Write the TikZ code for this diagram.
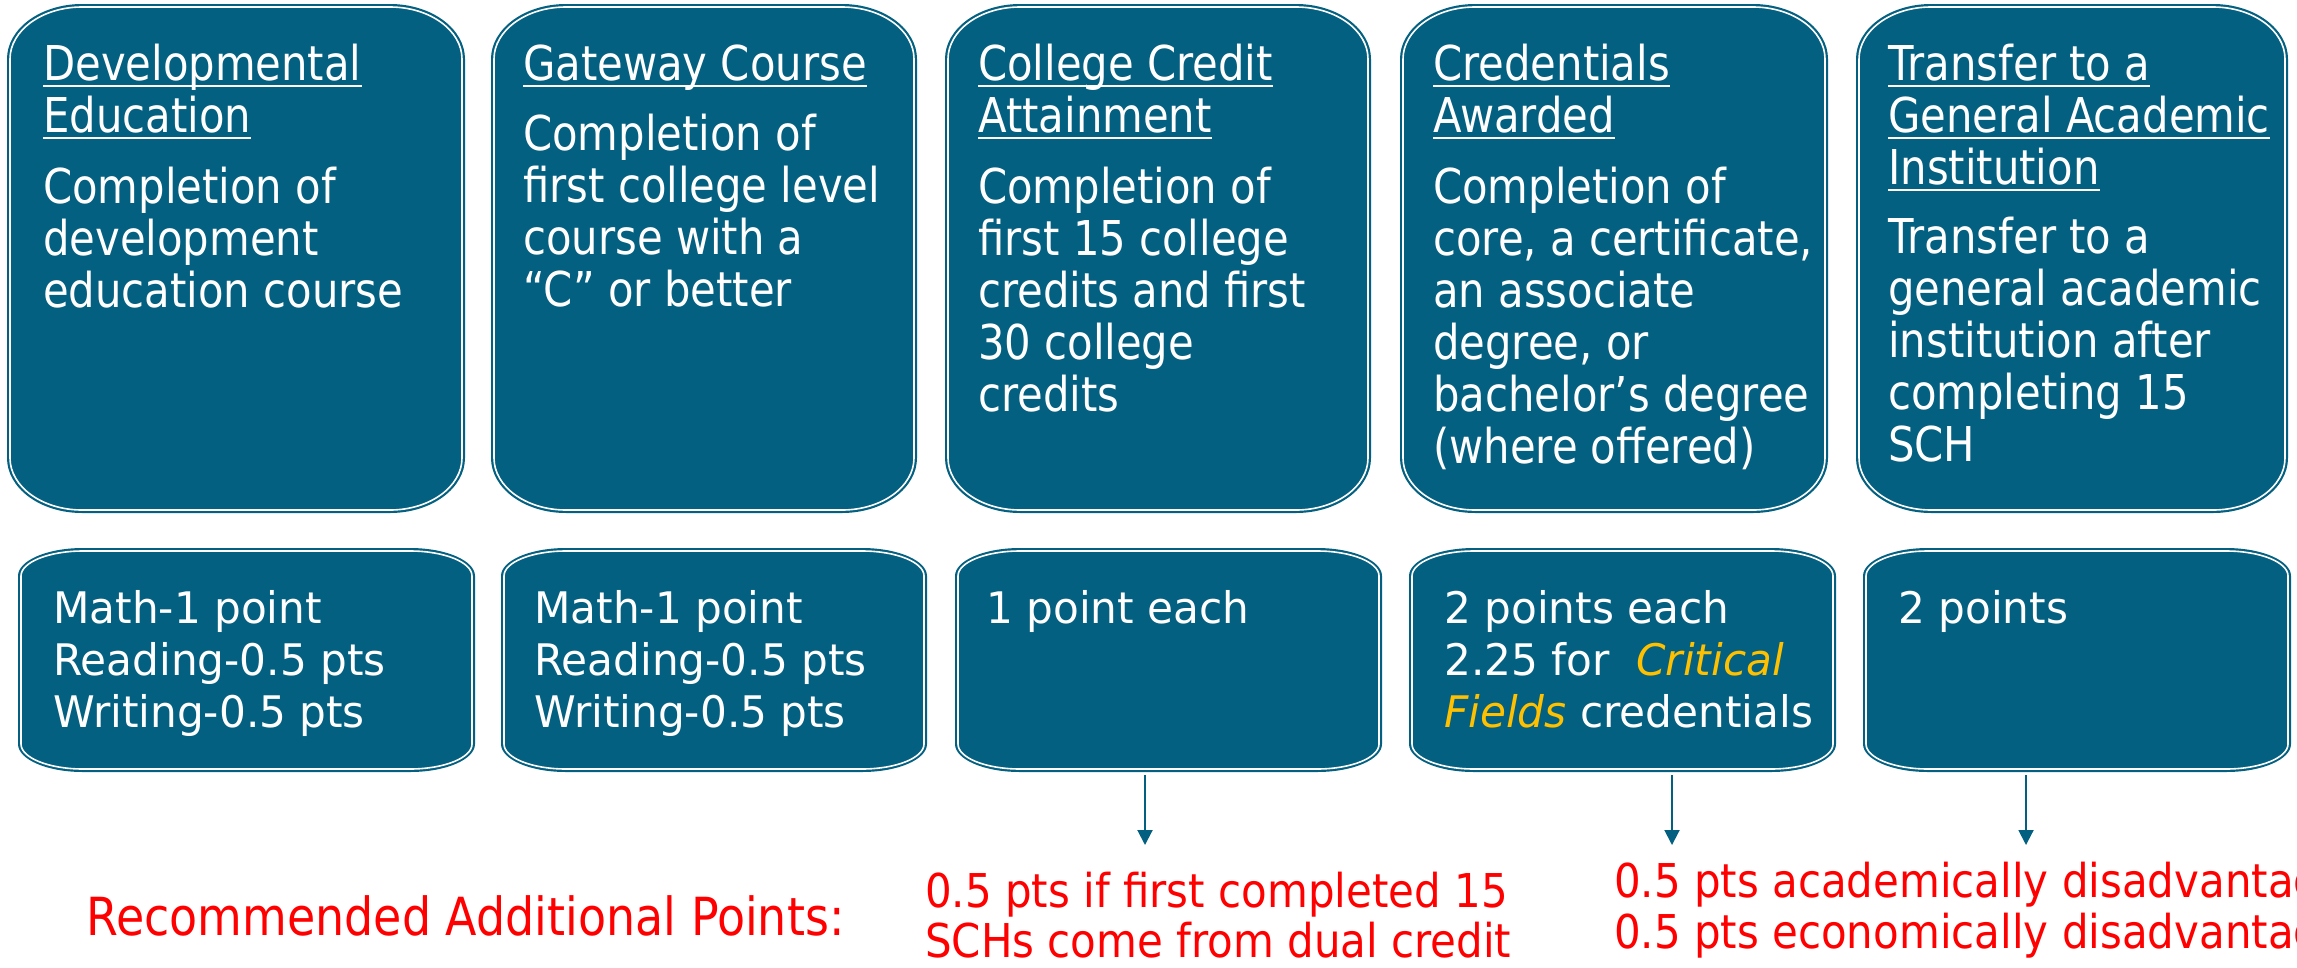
\documentclass[tikz,border=0pt]{standalone}
\usepackage{fontspec}
\usetikzlibrary{arrows.meta,fit}
\newfontfamily\ftop[FakeStretch=0.87,ItalicFont={DejaVu Sans Oblique}]{DejaVu Sans}
\newfontfamily\fbot[FakeStretch=0.97,ItalicFont={DejaVu Sans Oblique}]{DejaVu Sans}
\newfontfamily\frec[FakeStretch=0.875]{DejaVu Sans}
\newfontfamily\fred[FakeStretch=0.90]{DejaVu Sans}
\definecolor{boxc}{RGB}{3,96,128}
\definecolor{goldc}{RGB}{255,192,0}
\definecolor{redc}{RGB}{255,0,0}
\newcommand\blk[2]{\vtop{\baselineskip=#1\lineskiplimit=-100pt\halign{##\hfil\cr#2\crcr}}}
\newcommand\ulin[1]{\setbox0\hbox{#1}\rlap{\rule[-7.3pt]{\wd0}{2.3pt}}\box0}
% L T R B rx ry name
\newcommand\shp[7]{%
 \fill[boxc] (#1+#5,-#2) -- (#3-#5,-#2) arc[start angle=90,end angle=0,x radius=#5pt,y radius=#6pt]
   -- (#3,-#4+#6) arc[start angle=0,end angle=-90,x radius=#5pt,y radius=#6pt]
   -- (#1+#5,-#4) arc[start angle=270,end angle=180,x radius=#5pt,y radius=#6pt]
   -- (#1,-#2-#6) arc[start angle=180,end angle=90,x radius=#5pt,y radius=#6pt] -- cycle;
 \draw[white,line width=1.6pt] (#1+#5,-#2-3) -- (#3-#5,-#2-3) arc[start angle=90,end angle=0,x radius=#5pt-3pt,y radius=#6pt-3pt]
   -- (#3-3,-#4+#6) arc[start angle=0,end angle=-90,x radius=#5pt-3pt,y radius=#6pt-3pt]
   -- (#1+#5,-#4+3) arc[start angle=270,end angle=180,x radius=#5pt-3pt,y radius=#6pt-3pt]
   -- (#1+3,-#2-#6) arc[start angle=180,end angle=90,x radius=#5pt-3pt,y radius=#6pt-3pt] -- cycle;
 \coordinate (#7-tl) at (#1,-#2);
 \coordinate (#7-br) at (#3,-#4);
 \node[inner sep=0pt,fit=(#7-tl)(#7-br)] (#7) {};
}
\tikzset{
  toptxt/.style={anchor=base west,inner sep=0pt,text=white,font=\ftop\fontsize{48}{52}\selectfont},
  bottxt/.style={anchor=base west,inner sep=0pt,text=white,font=\fbot\fontsize{43.5}{52}\selectfont},
  redtxt/.style={anchor=base west,inner sep=0pt,text=redc,font=\fred\fontsize{46.6}{50}\selectfont},
  arr/.style={draw=boxc,line width=2pt,-{Triangle[width=15pt,length=15pt]}}
}
\begin{document}
\begin{tikzpicture}[x=1pt,y=1pt]
\useasboundingbox (0,0) rectangle (2297,-967);
\clip (0,0) rectangle (2297,-967);
% top boxes
\shp{7}{4}{465}{513}{75}{55}{b1}
\shp{491}{4}{917}{513}{75}{55}{b2}
\shp{945}{4}{1371}{513}{75}{55}{b3}
\shp{1400}{4}{1828}{513}{75}{55}{b4}
\shp{1856}{4}{2288}{513}{75}{55}{b5}
% bottom boxes
\shp{18}{548}{475}{772}{65}{28}{c1}
\shp{501}{548}{927}{772}{65}{28}{c2}
\shp{955}{548}{1382}{772}{65}{28}{c3}
\shp{1409}{548}{1836}{772}{65}{28}{c4}
\shp{1863}{548}{2291}{772}{65}{28}{c5}
% top texts
\node[toptxt] (h1) at (43,-80) {\blk{52pt}{\ulin{Developmental}\cr\ulin{Education}}};
\node[toptxt] (d1) at (43,-203) {\blk{52pt}{Completion of\cr development\cr education course}};
\node[toptxt] (h2) at (523,-80) {\blk{52pt}{\ulin{Gateway Course}}};
\node[toptxt] (d2) at (523,-150) {\blk{52pt}{Completion of\cr first college level\cr course with a\cr “C” or better}};
\node[toptxt] (h3) at (978,-80) {\blk{52pt}{\ulin{College Credit}\cr\ulin{Attainment}}};
\node[toptxt] (d3) at (978,-203) {\blk{52pt}{Completion of\cr first 15 college\cr credits and first\cr 30 college\cr credits}};
\node[toptxt] (h4) at (1433,-80) {\blk{52pt}{\ulin{Credentials}\cr\ulin{Awarded}}};
\node[toptxt] (d4) at (1433,-203) {\blk{52pt}{Completion of\cr core, a certificate,\cr an associate\cr degree, or\cr bachelor’s degree\cr (where offered)}};
\node[toptxt] (h5) at (1888,-80) {\blk{52pt}{\ulin{Transfer to a}\cr\ulin{General Academic}\cr\ulin{Institution}}};
\node[toptxt] (d5) at (1888,-253) {\blk{52pt}{Transfer to a\cr general academic\cr institution after\cr completing 15\cr SCH}};
% bottom texts
\node[bottxt] (p1) at (53,-623) {\blk{52pt}{Math-1 point\cr Reading-0.5 pts\cr Writing-0.5 pts}};
\node[bottxt] (p2) at (534,-623) {\blk{52pt}{Math-1 point\cr Reading-0.5 pts\cr Writing-0.5 pts}};
\node[bottxt] (p3) at (986,-623) {\blk{52pt}{1 point each}};
\node[bottxt] (p4) at (1444,-623) {\blk{52pt}{2 points each\cr 2.25 for \ {\color{goldc}\itshape Critical}\cr {\color{goldc}\itshape Fields} credentials}};
\node[bottxt] (p5) at (1898,-623) {\blk{52pt}{2 points}};
% red texts
\node[anchor=base west,inner sep=0pt,text=redc,font=\frec\fontsize{52.5}{56}\selectfont] (rec) at (86,-935) {Recommended Additional Points:};
\node[redtxt] (r3) at (925,-907) {\blk{50pt}{0.5 pts if first completed 15\cr SCHs come from dual credit}};
\node[redtxt] (r4) at (1614,-897) {\blk{51pt}{0.5 pts academically disadvantaged\cr 0.5 pts economically disadvantaged}};
% arrows
\coordinate (a3) at (1145,-845);
\coordinate (a4) at (1672,-845);
\coordinate (a5) at (2026,-845);
\draw[arr] (c3.south -| a3) ++(0,-3) -- (a3);
\draw[arr] (c4.south -| a4) ++(0,-3) -- (a4);
\draw[arr] (c5.south -| a5) ++(0,-3) -- (a5);
\end{tikzpicture}
\end{document}
